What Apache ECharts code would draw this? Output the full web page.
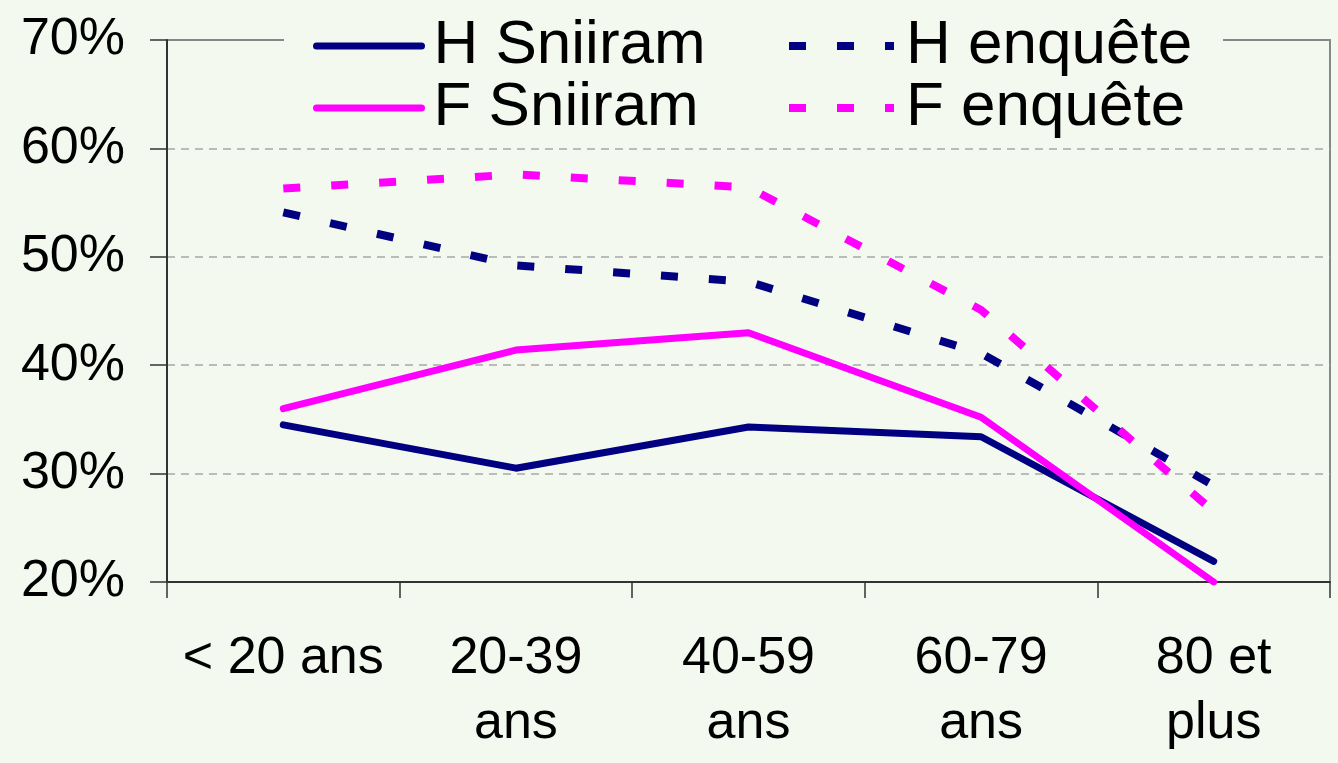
<!DOCTYPE html>
<html>
<head>
<meta charset="utf-8">
<script src="https://cdn.jsdelivr.net/npm/echarts@6/dist/echarts.min.js"></script>
<style>
html,body{margin:0;padding:0;background:#f3f9ef;}
#chart{width:1338px;height:763px;}
</style>
</head>
<body>
<div id="chart"></div>
<script>
const categories = ['< 20 ans', '20-39\nans', '40-59\nans', '60-79\nans', '80 et\nplus'];
const hSniiram = [0.345, 0.305, 0.343, 0.334, 0.219];
const fSniiram = [0.360, 0.414, 0.430, 0.352, 0.200];
const hEnquete = [0.541, 0.492, 0.477, 0.411, 0.289];
const fEnquete = [0.563, 0.576, 0.564, 0.451, 0.265];
const yTicks = [0.2, 0.3, 0.4, 0.5, 0.6, 0.7];

const BG = '#f3f9ef';
const NAVY = '#000080';
const MAGENTA = '#ff00ff';
const FONT = "'Liberation Sans', Arial, sans-serif";

const chart = echarts.init(document.getElementById('chart'), null, {renderer: 'canvas'});

function solid(color) {
  return {width: 7, color: color, cap: 'round', join: 'round', type: 'solid'};
}
function dashed(color) {
  return {width: 8, color: color, type: [17, 31], cap: 'butt', join: 'round'};
}

const legendText = {fontSize: 62, fontFamily: FONT, color: '#000', lineHeight: 53, padding: [0, 0, 0, 7]};

function legendItem(name, style) {
  return {name: name, lineStyle: style, itemStyle: {opacity: 0}};
}

chart.setOption({
  backgroundColor: BG,
  animation: false,
  grid: {
    left: 167, right: 8, top: 40, bottom: 181,
    show: true, borderColor: '#888', borderWidth: 2, backgroundColor: 'transparent'
  },
  graphic: [{
    type: 'rect', z: 50,
    shape: {x: 284, y: 34, width: 939, height: 12},
    style: {fill: BG}
  }],
  legend: [{
    z: 60,
    orient: 'vertical', left: 313, top: 15, padding: 0, itemGap: 0,
    itemWidth: 105, itemHeight: 1,
    data: [legendItem('H Sniiram', solid(NAVY)), legendItem('F Sniiram', solid(MAGENTA))],
    textStyle: legendText
  }, {
    z: 60,
    orient: 'vertical', left: 785, top: 15, padding: 0, itemGap: 0,
    itemWidth: 105, itemHeight: 1,
    data: [legendItem('H enquête', dashed(NAVY)), legendItem('F enquête', dashed(MAGENTA))],
    textStyle: legendText
  }],
  xAxis: {
    type: 'category',
    data: categories,
    boundaryGap: true,
    axisLine: {show: true, lineStyle: {color: '#333', width: 2}},
    axisTick: {show: true, length: 16, lineStyle: {color: '#333', width: 1.5}},
    axisLabel: {
      interval: 0, fontSize: 52, lineHeight: 65, margin: 44,
      color: '#000', fontFamily: FONT
    },
    splitLine: {show: false}
  },
  yAxis: {
    type: 'value',
    min: yTicks[0], max: yTicks[yTicks.length - 1], interval: 0.1,
    axisLine: {show: true, lineStyle: {color: '#333', width: 2}},
    axisTick: {show: true, length: 17, lineStyle: {color: '#333', width: 1.5}},
    axisLabel: {
      fontSize: 52, margin: 42, color: '#000', fontFamily: FONT,
      formatter: v => Math.round(v * 100) + '%'
    },
    splitLine: {
      show: true, showMinLine: false, showMaxLine: false,
      lineStyle: {color: '#a8a8a8', width: 1.5, type: [8, 6]}
    }
  },
  series: [
    {name: 'H Sniiram', type: 'line', data: hSniiram, symbol: 'none', lineStyle: solid(NAVY), itemStyle: {color: NAVY}, z: 3},
    {name: 'H enquête', type: 'line', data: hEnquete, symbol: 'none', lineStyle: dashed(NAVY), itemStyle: {color: NAVY}, z: 3},
    {name: 'F Sniiram', type: 'line', data: fSniiram, symbol: 'none', lineStyle: solid(MAGENTA), itemStyle: {color: MAGENTA}, z: 4},
    {name: 'F enquête', type: 'line', data: fEnquete, symbol: 'none', lineStyle: dashed(MAGENTA), itemStyle: {color: MAGENTA}, z: 4}
  ]
});
</script>
</body>
</html>
